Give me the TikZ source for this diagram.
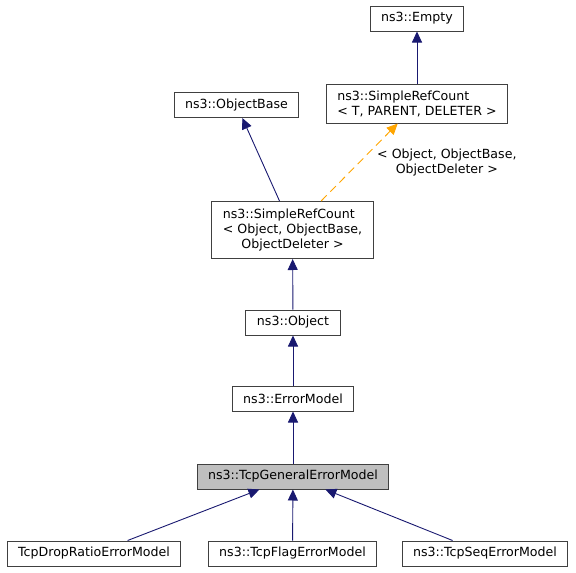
\documentclass[tikz,border=0pt]{standalone}
\usepackage{fontspec}
\setmainfont{DejaVu Sans}
\usetikzlibrary{arrows.meta}
\definecolor{edgeblue}{HTML}{191970}
\definecolor{tmplorange}{HTML}{FFA500}

\begin{document}
\begin{tikzpicture}[x=1pt,y=-1pt,>={Triangle[length=11pt,width=10pt]},font=\fontsize{12.6}{15}\selectfont]
  \tikzset{cls/.style={draw=black!75,line width=1pt,fill=white,inner xsep=11pt,inner ysep=6pt,minimum height=25pt},
           this/.style={cls,fill=black!25},
           inh/.style={->,draw=edgeblue,fill=edgeblue,line width=0.9pt},
           tmpl/.style={->,draw=tmplorange,fill=tmplorange,line width=0.9pt,dash pattern=on 8pt off 5pt}}
  \useasboundingbox (0,0) rectangle (576,573);
  \node[cls]  (empty)   at (417,18.5)  {ns3::Empty};
  \node[cls,align=left] (refct) at (417,104) {ns3::SimpleRefCount\\< T, PARENT, DELETER >};
  \node[cls]  (objbase) at (236.5,105) {ns3::ObjectBase};
  \node[cls]  (objrefct) at (292.5,230)
    {\begin{tabular}{@{}l@{}}ns3::SimpleRefCount\\< Object, ObjectBase,\\\multicolumn{1}{@{}c@{}}{ObjectDeleter >}\end{tabular}};
  \node[cls]  (object)  at (293,322.5) {ns3::Object};
  \node[cls]  (errmod)  at (293,398.5) {ns3::ErrorModel};
  \node[this] (general) at (293,476.5) {ns3::TcpGeneralErrorModel};
  \node[cls]  (drop)    at (94,553.5)  {TcpDropRatioErrorModel};
  \node[cls]  (flag)    at (292.5,553.5) {ns3::TcpFlagErrorModel};
  \node[cls]  (seq)     at (485,553.5) {ns3::TcpSeqErrorModel};
  \path[inh] (refct)    edge (empty)
             (objrefct) edge (objbase)
             (object)   edge (objrefct)
             (errmod)   edge (object)
             (general)  edge (errmod)
             (drop)     edge (general)
             (flag)     edge (general)
             (seq)      edge (general);
  \path[tmpl] (objrefct) edge node[right=14pt,align=center,text=black] {< Object, ObjectBase,\\ObjectDeleter >} (refct);
\end{tikzpicture}
\end{document}
